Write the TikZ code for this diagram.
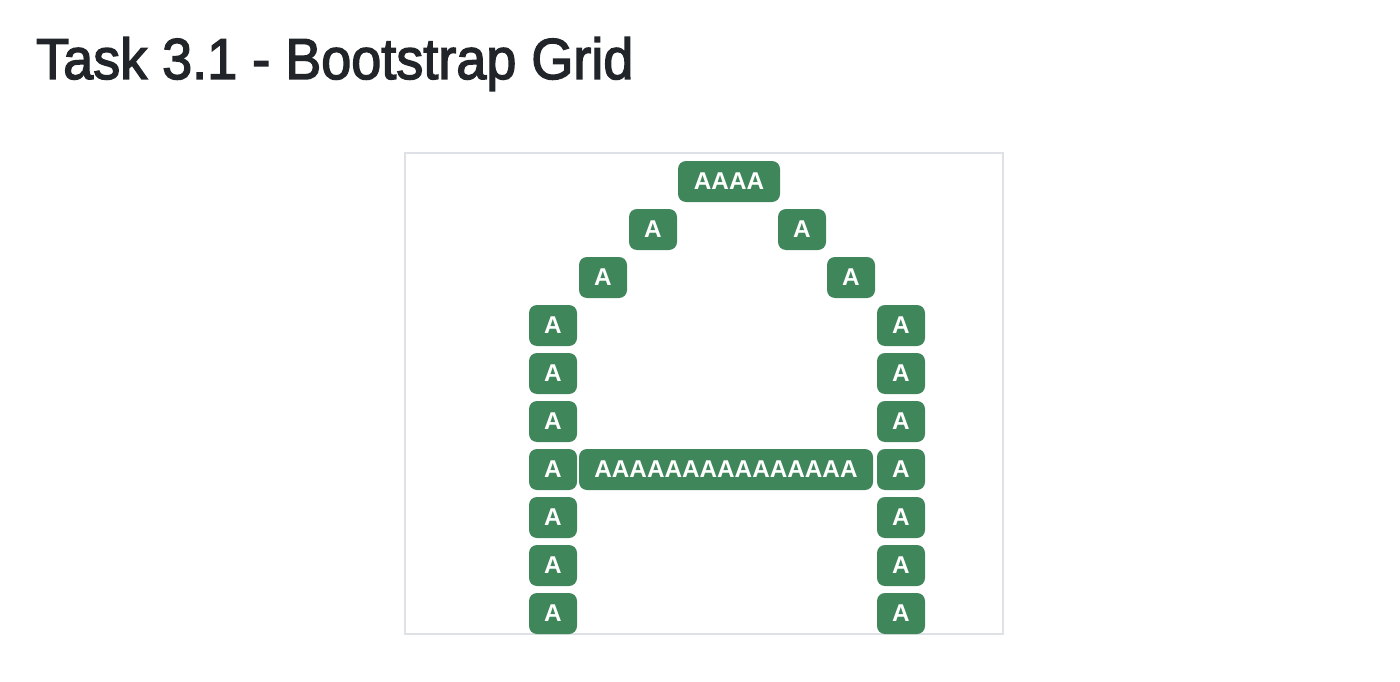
\documentclass[tikz,border=0pt]{standalone}
\usepackage{fontspec}
\setmainfont{Liberation Sans}
\newfontfamily\titlefont[FakeBold=2.5]{Liberation Sans}
\definecolor{boxgreen}{HTML}{3F865A}
\definecolor{framegray}{HTML}{DEE2E6}
\definecolor{titlecol}{HTML}{212529}
\tikzset{
  abox/.style={rectangle, rounded corners=8pt, fill=boxgreen, text=white,
    inner sep=0pt, minimum height=41pt, minimum width=48pt,
    font=\fontsize{24.3}{24}\selectfont\bfseries},
  frame/.style={draw=framegray, line width=1.5pt},
  titletext/.style={anchor=base west, inner sep=0pt, text=titlecol,
    font=\titlefont\fontsize{54}{55}\selectfont}
}
\begin{document}
\begin{tikzpicture}[x=1pt,y=-1pt]
\useasboundingbox (0,0) rectangle (1400,682);
\node[titletext] (title) at (36,79) {\scalebox{1}[1.07]{Task 3.1 - Bootstrap Grid}};
\draw[frame] (405,153) rectangle (1003,634);
% row 0
\node[abox, minimum width=102pt] (r0) at (729,181.5) {AAAA};
% row 1
\node[abox] (r1l) at (653,229.5) {A};
\node[abox] (r1r) at (802,229.5) {A};
% row 2
\node[abox] (r2l) at (603,277.5) {A};
\node[abox] (r2r) at (851,277.5) {A};
% rows 3-9
\foreach \i in {3,...,9}{
  \node[abox] (l\i) at (553,{181.5+48*\i}) {A};
  \node[abox] (r\i) at (901,{181.5+48*\i}) {A};
}
\node[abox, minimum width=294pt] (mid) at (726,469.5) {AAAAAAAAAAAAAAA};
\end{tikzpicture}
\end{document}
